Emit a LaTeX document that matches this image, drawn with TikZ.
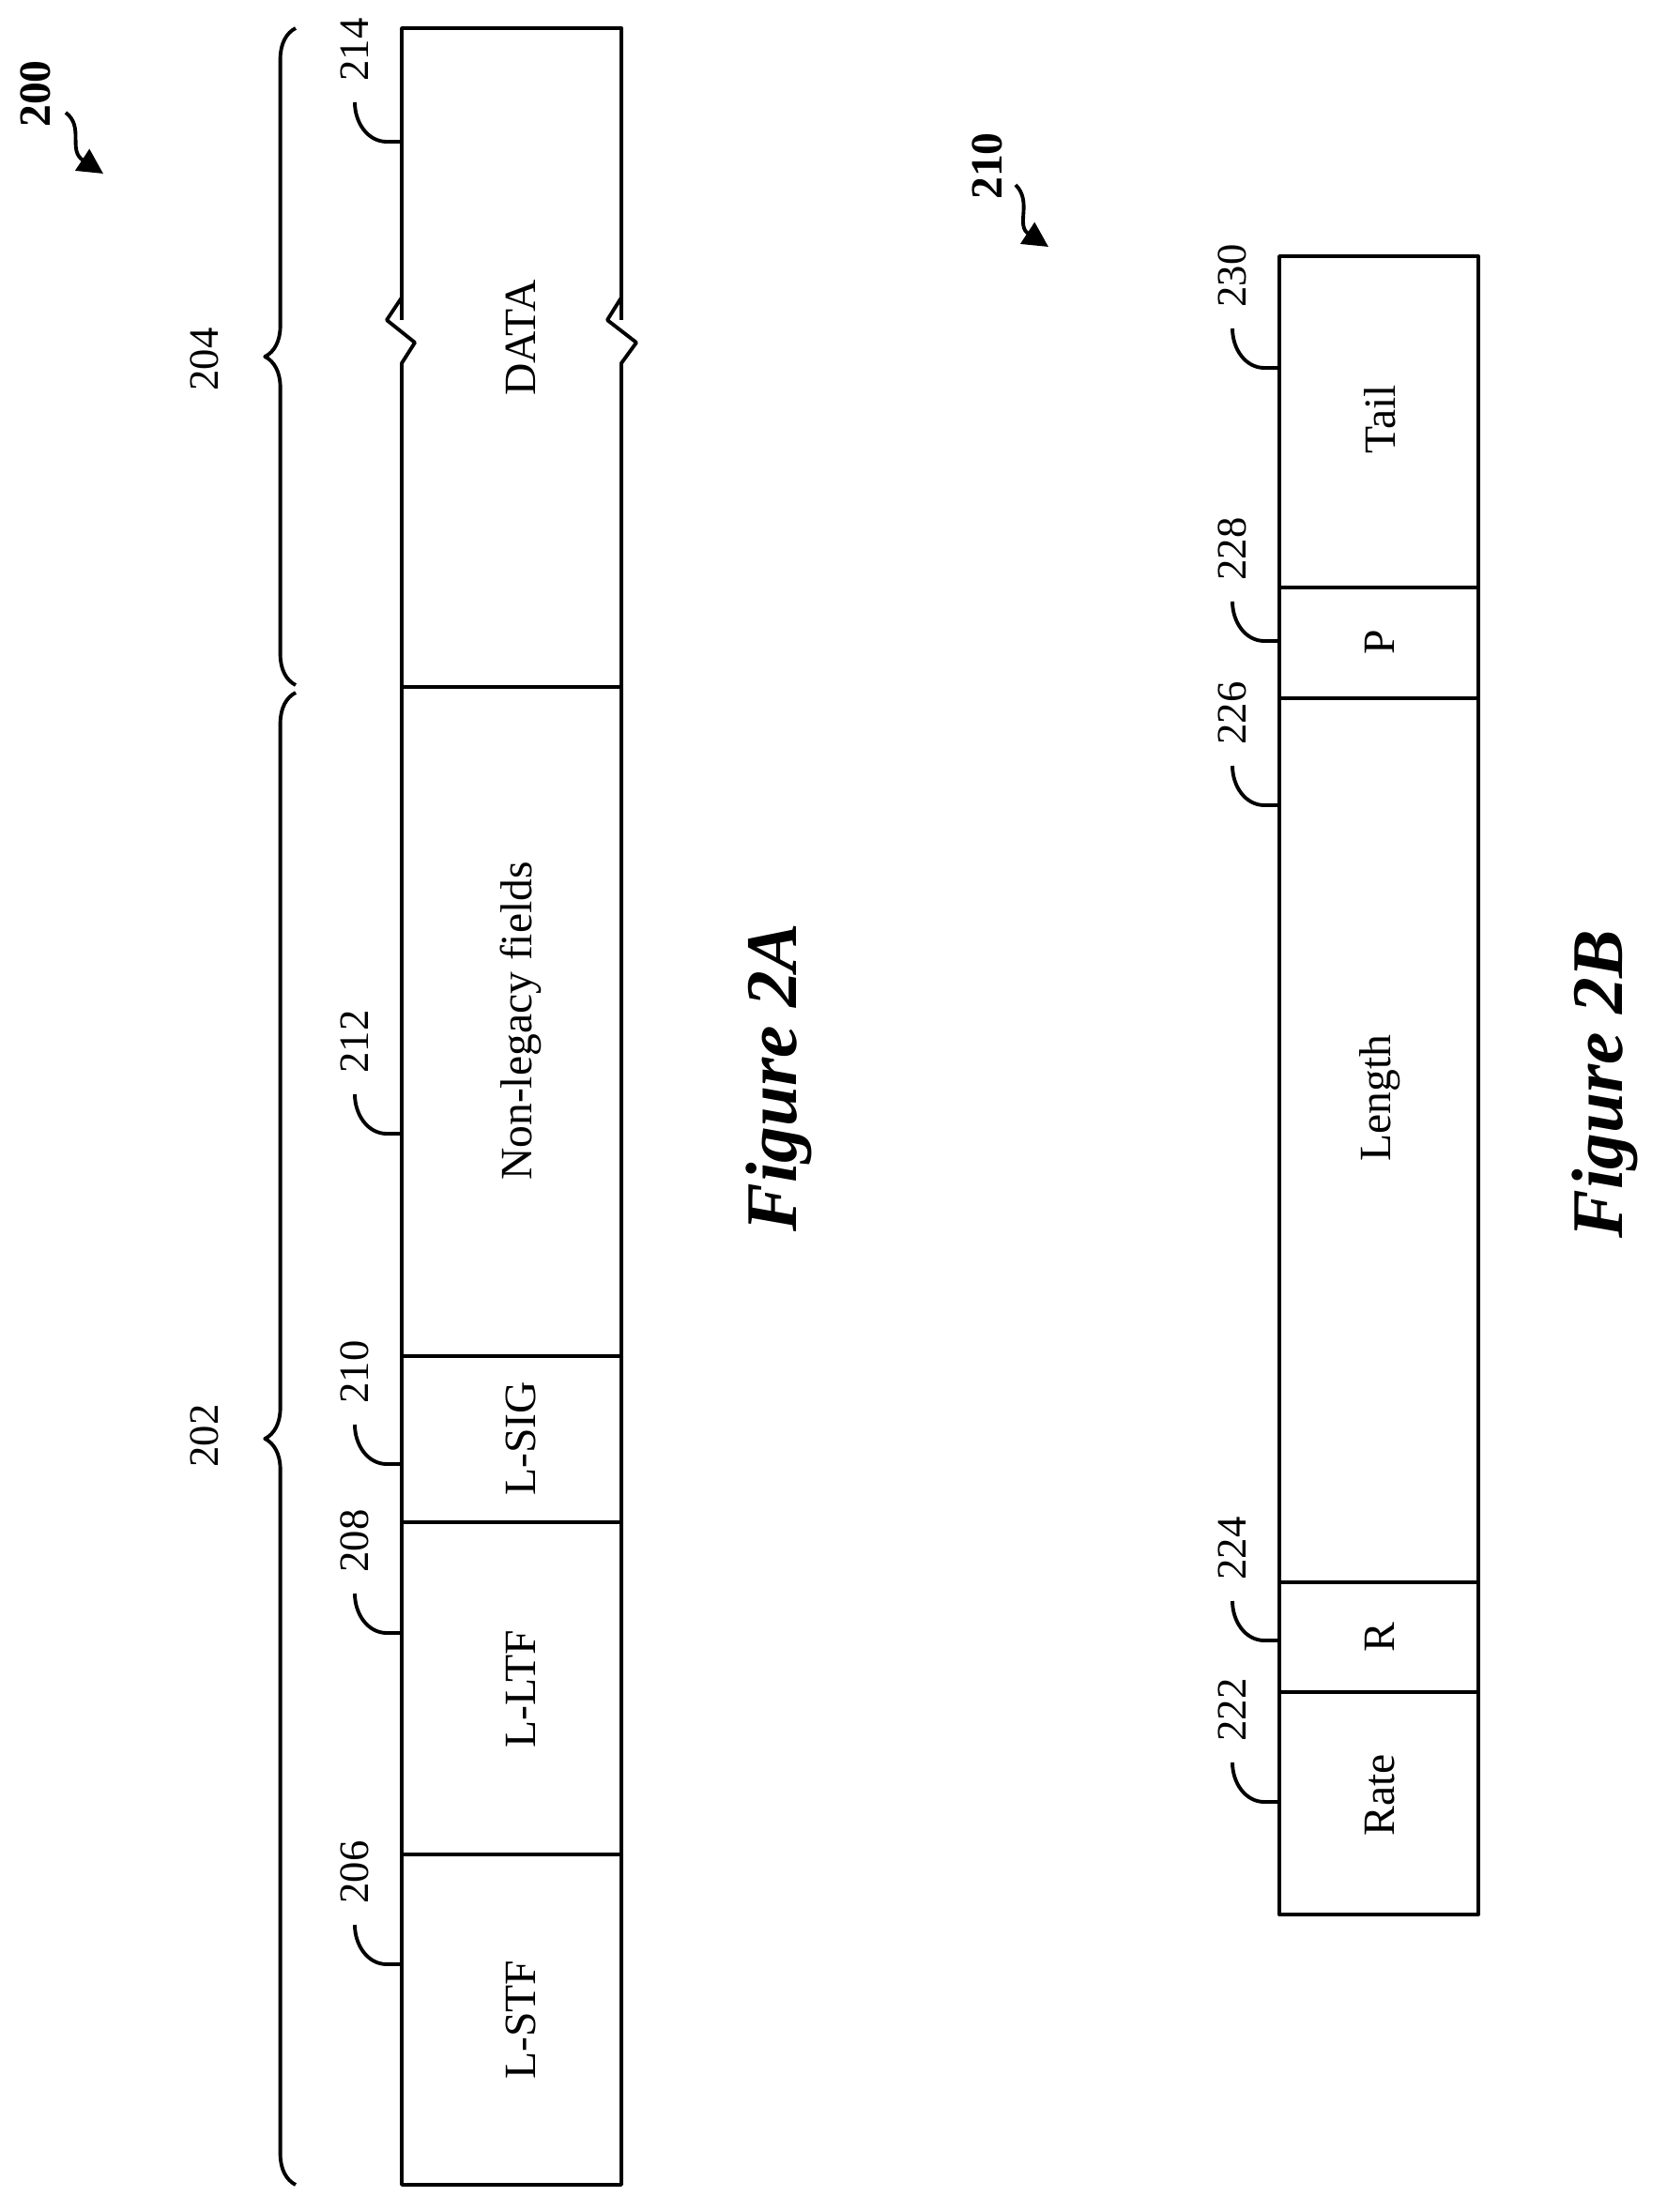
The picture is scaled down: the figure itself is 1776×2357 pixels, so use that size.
\documentclass[tikz,border=0pt]{standalone}
\usepackage{fontspec}
\setmainfont{Liberation Serif}
\usetikzlibrary{decorations.pathreplacing,arrows.meta}
\tikzset{
  fld/.style={font=\fontsize{16}{18}\selectfont, rotate=90},
  refnum/.style={font=\fontsize{15}{18}\selectfont, rotate=90},
  bignum/.style={font=\fontsize{16}{18}\selectfont\bfseries, rotate=90},
  figlab/.style={font=\fontsize{26}{30}\selectfont\bfseries\itshape, rotate=90},
  brc/.style={decorate, decoration={brace, amplitude=11pt}},
}
\newcommand{\leader}[3]{%
  \draw (#1,#2) -- ++(-16,0) .. controls +(-20,0) and +(0,22) .. ++(-34,-42);
  \node[refnum] at (#1-50,#2-98) {#3};}
\begin{document}
\begin{tikzpicture}[x=0.336pt, y=-0.336pt, line width=1.3pt, line join=round]
\useasboundingbox (0,0) rectangle (1776,2357);
% Figure 2A
\draw (428,341) -- (428,30) -- (662,30) -- (662,341);
\draw (428,317) -- (412,341) -- (442,365) -- (428,387) -- (428,2328) -- (662,2328) -- (662,387) -- (678,365) -- (647,341) -- (662,317);
\foreach \y in {732,1445,1622,1976} \draw (428,\y) -- (662,\y);
\node[fld] (data) at (555,360) {DATA};
\node[fld] (nonleg) at (555,1088) {Non-legacy fields};
\node[fld] (lsig) at (555,1533) {L-SIG};
\node[fld] (lltf) at (555,1800) {L-LTF};
\node[fld] (lstf) at (555,2152) {L-STF};
\leader{428}{151}{214}
\leader{428}{1208}{212}
\leader{428}{1560}{210}
\leader{428}{1740}{208}
\leader{428}{2093}{206}
\draw[brc] (315,730) -- (315,30);
\draw[brc] (315,2328) -- (315,738);
\node[refnum] (b204) at (218,383) {204};
\node[refnum] (b202) at (218,1530) {202};
\node[bignum] (n200) at (38,100) {200};
\coordinate (a200) at (110,185);
\draw[-{Triangle[length=9pt,width=9pt]}] (70,120) .. controls (90,135) and (72,160) .. (a200);
\node[figlab] (fa) at (830,1148) {Figure 2A};
% Figure 2B
\draw (1363,273) rectangle (1575,2040);
\foreach \y in {626,744,1686,1803} \draw (1363,\y) -- (1575,\y);
\node[fld] (tail) at (1470,447) {Tail};
\node[fld] (pbit) at (1470,684) {P};
\node[fld] (len) at (1470,1170) {Length};
\node[fld] (rbit) at (1470,1745) {R};
\node[fld] (rate) at (1470,1913) {Rate};
\leader{1363}{392}{230}
\leader{1363}{683}{228}
\leader{1363}{858}{226}
\leader{1363}{1748}{224}
\leader{1363}{1920}{222}
\node[bignum] (n210) at (1052,177) {210};
\coordinate (a210) at (1117,263);
\draw[-{Triangle[length=9pt,width=9pt]}] (1082,197) .. controls (1100,215) and (1082,240) .. (a210);
\node[figlab] (fb) at (1710,1155) {Figure 2B};
\end{tikzpicture}
\end{document}
